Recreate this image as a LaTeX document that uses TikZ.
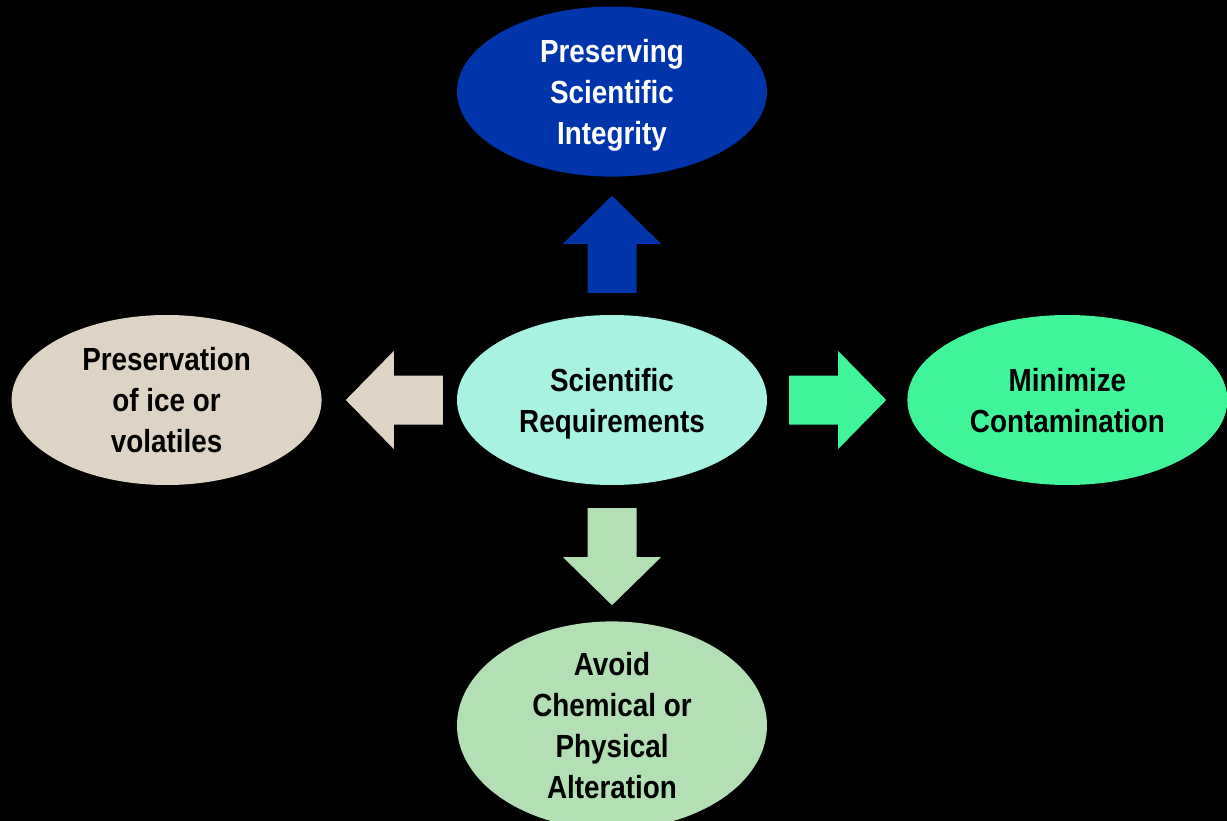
\documentclass[tikz,border=0pt]{standalone}
\usepackage{fontspec}
\setmainfont{Liberation Sans}
\newfontfamily\boxfont[FakeStretch=0.87]{Liberation Sans}
\usepackage{tikz}
\usetikzlibrary{shapes.geometric}
\usetikzlibrary{positioning}
\usetikzlibrary{calc}

\definecolor{integrityblue}{RGB}{0,52,170}
\definecolor{reqaqua}{RGB}{168,242,226}
\definecolor{iceberge}{RGB}{222,212,198}
\definecolor{contamgreen}{RGB}{64,244,154}
\definecolor{altergreen}{RGB}{178,223,180}

\tikzset{
  goal/.style={ellipse,inner sep=0pt,minimum width=310pt,minimum height=170pt,
    align=center,text depth=0pt,font=\boxfont\bfseries\fontsize{32}{41}\selectfont},
  pics/blockarrow/.style={code={
    \fill[#1] (0,-24.5) -- (49,-24.5) -- (49,-49) -- (97,0) -- (49,49) -- (49,24.5) -- (0,24.5) -- cycle;
  }}
}

\begin{document}
\begin{tikzpicture}[x=1pt,y=-1pt]

    \useasboundingbox (0,0) rectangle (1227,821);
    \fill[black] (0,0) rectangle (1227,821);

    %Ellipses
    \node[goal,fill=reqaqua] (req) at (612,400) {Scientific\\Requirements};
    \node[goal,fill=integrityblue,text=white,above=138pt of req] (integrity) {Preserving\\Scientific\\Integrity};
    \node[goal,fill=iceberge,left=135pt of req] (ice) {Preservation\\of ice or\\volatiles};
    \node[goal,fill=contamgreen,minimum width=320pt,right=140pt of req] (contam) {Minimize\\Contamination};
    \node[goal,fill=altergreen,minimum height=208pt,below=136pt of req] (alter) {Avoid\\Chemical or\\Physical\\Alteration};

    %Arrows
    \pic[rotate=90] at ($(req.north)+(0,-22)$) {blockarrow=integrityblue};
    \pic[rotate=180] at ($(req.west)+(-14,0)$) {blockarrow=iceberge};
    \pic at ($(req.east)+(22,0)$) {blockarrow=contamgreen};
    \pic[rotate=-90] at ($(req.south)+(0,23)$) {blockarrow=altergreen};

\end{tikzpicture}
\end{document}
